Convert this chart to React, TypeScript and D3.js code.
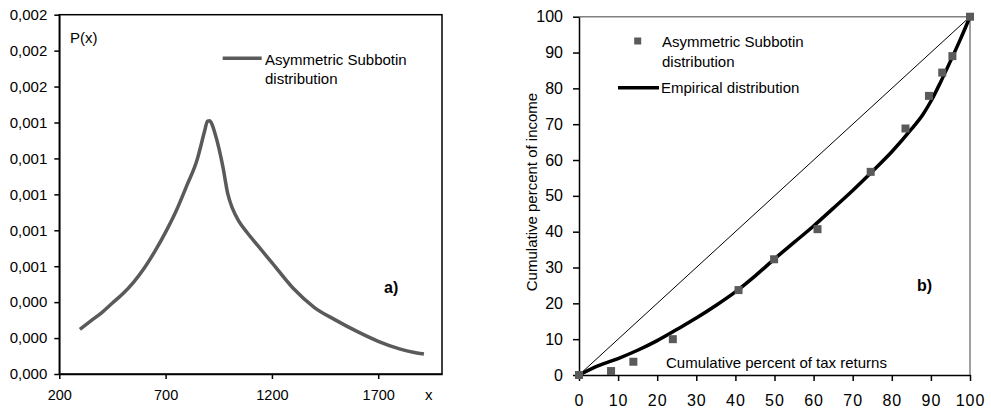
import { useEffect, useRef } from "react";
import * as d3 from "d3";

// panel a) - asymmetric Subbotin density
const densityX = [297, 350, 400, 450, 500, 550, 600, 650, 700, 750, 800, 850, 870, 885, 897, 907, 918, 932, 950, 970, 992, 1015, 1045, 1085, 1130, 1200, 1300, 1400, 1500, 1600, 1700, 1800, 1870, 1915];
const densityP = [0.000249, 0.000297, 0.000342, 0.000395, 0.000448, 0.000512, 0.00059, 0.000684, 0.00079, 0.000909, 0.00105, 0.0012, 0.00129, 0.00136, 0.001408, 0.00141, 0.00139, 0.00134, 0.00126, 0.00115, 0.001005, 0.00092, 0.00085, 0.000785, 0.00072, 0.00062, 0.000477, 0.00037, 0.0003, 0.000237, 0.000182, 0.00014, 0.00012, 0.000111];
const densityTicksX = [200, 700, 1200, 1700];
const densityTicksY = [0, 0.0002, 0.0004, 0.0006, 0.0008, 0.001, 0.0012, 0.0014, 0.0016, 0.0018, 0.002];

// panel b) - Lorenz curves
const subbotinReturns = [0, 8.2, 13.9, 24, 40.8, 49.9, 61, 74.6, 83.5, 89.5, 92.9, 95.5, 100];
const subbotinIncome = [0, 1.1, 3.7, 10, 23.7, 32.3, 40.7, 56.7, 68.8, 77.9, 84.4, 89, 100];
const empiricalReturns = [0, 5, 10, 15, 20, 25, 30, 35, 40, 45, 50, 55, 60, 65, 70, 75, 80, 85, 88, 90, 92.5, 95, 97.5, 100];
const empiricalIncome = [0, 2.6, 4.6, 6.9, 9.6, 12.7, 15.9, 19.4, 23.2, 27.6, 32.4, 37, 41.6, 46.5, 51.5, 56.8, 62.3, 68.6, 72.8, 76.4, 81.8, 87.6, 93.6, 100];
const lorenzTicks = [0, 10, 20, 30, 40, 50, 60, 70, 80, 90, 100];

const FONT = "'Liberation Sans', Arial, sans-serif";
const GREY = "#5a5a5a";

const App = () => {
  const ref = useRef<SVGSVGElement | null>(null);

  useEffect(() => {
    if (!ref.current) return;
    const svg = d3.select(ref.current);
    svg.selectAll("*").remove();

    // ---------- panel a ----------
    const xa = d3.scaleLinear().domain([200, 2000]).range([59.3, 442]);
    const ya = d3.scaleLinear().domain([0, 0.002]).range([374, 14.7]);
    const ga = svg.append("g");

    ga.append("rect")
      .attr("x", xa(200))
      .attr("y", ya(0.002))
      .attr("width", xa(2000) - xa(200))
      .attr("height", ya(0) - ya(0.002))
      .attr("fill", "none")
      .attr("stroke", "#000")
      .attr("stroke-width", 1.5);

    const axA = ga.append("g")
      .attr("transform", `translate(${xa(200)},0)`)
      .call(d3.axisLeft(ya).tickValues(densityTicksY).tickSize(5).tickSizeOuter(0).tickPadding(7)
        .tickFormat((d) => (+d).toFixed(3).replace(".", ",")));
    const axB = ga.append("g")
      .attr("transform", `translate(0,${ya(0)})`)
      .call(d3.axisBottom(xa).tickValues(densityTicksX).tickSize(5).tickSizeOuter(0).tickPadding(11)
        .tickFormat((d) => String(d)));
    axB.selectAll("text").attr("font-size", 14.5);
    axA.selectAll("text").attr("font-size", 15);
    [axA, axB].forEach((a) => {
      a.attr("font-family", FONT);
      a.selectAll("text").attr("fill", "#000");
      a.selectAll("line").attr("stroke", "#000").attr("stroke-width", 1.5);
      a.select(".domain").attr("stroke", "#000").attr("stroke-width", 1.5);
    });

    const lineA = d3.line<number>()
      .x((d) => xa(d))
      .y((_, i) => ya(densityP[i]))
      .curve(d3.curveMonotoneX);
    ga.append("path")
      .attr("d", lineA(densityX))
      .attr("fill", "none")
      .attr("stroke", GREY)
      .attr("stroke-width", 3.5);

    ga.append("text").attr("x", 70).attr("y", 43).text("P(x)");
    ga.append("text").attr("x", 425).attr("y", 400).text("x");
    ga.append("line").attr("x1", 222.7).attr("x2", 261.7).attr("y1", 58.3).attr("y2", 58.3)
      .attr("stroke", GREY).attr("stroke-width", 3.5);
    ga.append("text").attr("x", 265).attr("y", 65).text("Asymmetric Subbotin");
    ga.append("text").attr("x", 265).attr("y", 84).text("distribution");
    ga.append("text").attr("x", 384).attr("y", 293).attr("font-weight", "bold").attr("font-size", 16).text("a)");

    // ---------- panel b ----------
    const xb = d3.scaleLinear().domain([0, 100]).range([579, 970]);
    const yb = d3.scaleLinear().domain([0, 100]).range([375, 16.7]);
    const gb = svg.append("g");

    gb.append("path")
      .attr("d", `M${xb(0)},${yb(100)}H${xb(100)}V${yb(0)}`)
      .attr("fill", "none")
      .attr("stroke", "#808080")
      .attr("stroke-width", 1.5);

    const axC = gb.append("g")
      .attr("transform", `translate(${xb(0)},0)`)
      .call(d3.axisLeft(yb).tickValues(lorenzTicks).tickSize(6).tickSizeOuter(0).tickPadding(10));
    const axD = gb.append("g")
      .attr("transform", `translate(0,${yb(0)})`)
      .call(d3.axisBottom(xb).tickValues(lorenzTicks).tickSize(6).tickSizeOuter(0).tickPadding(14));
    [axC, axD].forEach((a) => {
      a.attr("font-family", FONT);
      a.selectAll("text").attr("font-size", 16).attr("fill", "#000");
      a.selectAll("line").attr("stroke", "#000").attr("stroke-width", 1.5);
      a.select(".domain").attr("stroke", "#000").attr("stroke-width", 1.5);
    });
    axD.selectAll("text").attr("letter-spacing", 1);

    gb.append("line")
      .attr("x1", xb(0)).attr("y1", yb(0)).attr("x2", xb(100)).attr("y2", yb(100))
      .attr("stroke", "#000").attr("stroke-width", 1);

    const lineB = d3.line<number>()
      .x((d) => xb(d))
      .y((_, i) => yb(empiricalIncome[i]))
      .curve(d3.curveMonotoneX);
    gb.append("path")
      .attr("d", lineB(empiricalReturns))
      .attr("fill", "none")
      .attr("stroke", "#000")
      .attr("stroke-width", 3.5);

    gb.selectAll("rect.pt")
      .data(subbotinReturns)
      .enter()
      .append("rect")
      .attr("class", "pt")
      .attr("x", (d) => xb(d) - 4)
      .attr("y", (_, i) => yb(subbotinIncome[i]) - 4)
      .attr("width", 8)
      .attr("height", 8)
      .attr("fill", GREY);

    gb.append("rect").attr("x", 634.2).attr("y", 37.5).attr("width", 7).attr("height", 7).attr("fill", GREY);
    gb.append("text").attr("x", 662).attr("y", 46.5).text("Asymmetric Subbotin");
    gb.append("text").attr("x", 662).attr("y", 66.5).text("distribution");
    gb.append("line").attr("x1", 618).attr("x2", 659).attr("y1", 87.7).attr("y2", 87.7)
      .attr("stroke", "#000").attr("stroke-width", 3.5);
    gb.append("text").attr("x", 661).attr("y", 93).text("Empirical distribution");
    gb.append("text").attr("x", 666).attr("y", 368).text("Cumulative percent of tax returns");
    gb.append("text")
      .attr("transform", "translate(537,192) rotate(-90)")
      .attr("text-anchor", "middle")
      .text("Cumulative percent of income");
    gb.append("text").attr("x", 917).attr("y", 291).attr("font-weight", "bold").attr("font-size", 16).text("b)");
  }, []);

  return (
    <svg
      ref={ref}
      width={991}
      height={412}
      style={{ position: "absolute", left: 0, top: 0, background: "#fff" }}
      fontFamily={FONT}
      fontSize={15}
    />
  );
};

export default App;
